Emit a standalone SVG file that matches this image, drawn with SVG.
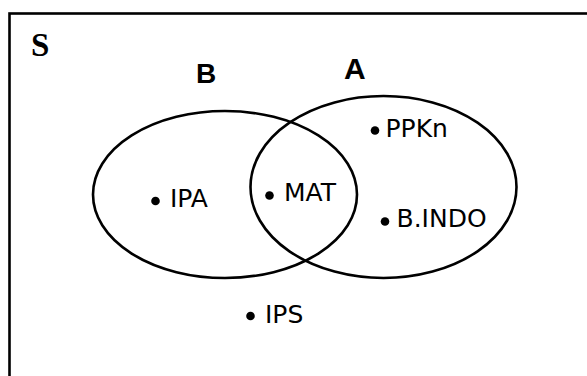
<svg xmlns="http://www.w3.org/2000/svg" width="587" height="376" viewBox="0 0 587 376">
<style>
.set{fill:none;stroke:#000;stroke-width:2.6}
.lbl{font-family:"DejaVu Sans",sans-serif;font-size:25px;fill:#000}
.setlbl{font-family:"Liberation Sans",Arial,sans-serif;font-weight:bold;fill:#000}
.dot{fill:#000}
</style>
<rect x="0" y="0" width="587" height="376" fill="#fff"/>
<g id="universe">
<rect x="9.5" y="13.5" width="620" height="400" fill="none" stroke="#000" stroke-width="2.6"/>
<text x="31" y="56" font-family="Liberation Serif,serif" font-weight="bold" font-size="33">S</text>
</g>
<g id="setB">
<ellipse class="set" cx="225" cy="194.5" rx="132" ry="83.5"/>
<text class="setlbl" x="196" y="83" font-size="28">B</text>
</g>
<g id="setA">
<ellipse class="set" cx="383.5" cy="187" rx="133" ry="91"/>
<text class="setlbl" x="344" y="79" font-size="30">A</text>
</g>
<g id="IPA">
<circle class="dot" cx="155.5" cy="201" r="4.3"/>
<text class="lbl" x="170" y="207">IPA</text>
</g>
<g id="MAT">
<circle class="dot" cx="269.5" cy="195.5" r="4.3"/>
<text class="lbl" x="284" y="200.5">MAT</text>
</g>
<g id="PPKn">
<circle class="dot" cx="375" cy="130.5" r="4.3"/>
<text class="lbl" x="385.5" y="137">PPKn</text>
</g>
<g id="BINDO">
<circle class="dot" cx="385" cy="221.5" r="4.3"/>
<text class="lbl" x="396.5" y="226.5">B.INDO</text>
</g>
<g id="IPS">
<circle class="dot" cx="250.5" cy="316" r="4.3"/>
<text class="lbl" x="265" y="322.5">IPS</text>
</g>
<g id="connectors"></g>
</svg>
